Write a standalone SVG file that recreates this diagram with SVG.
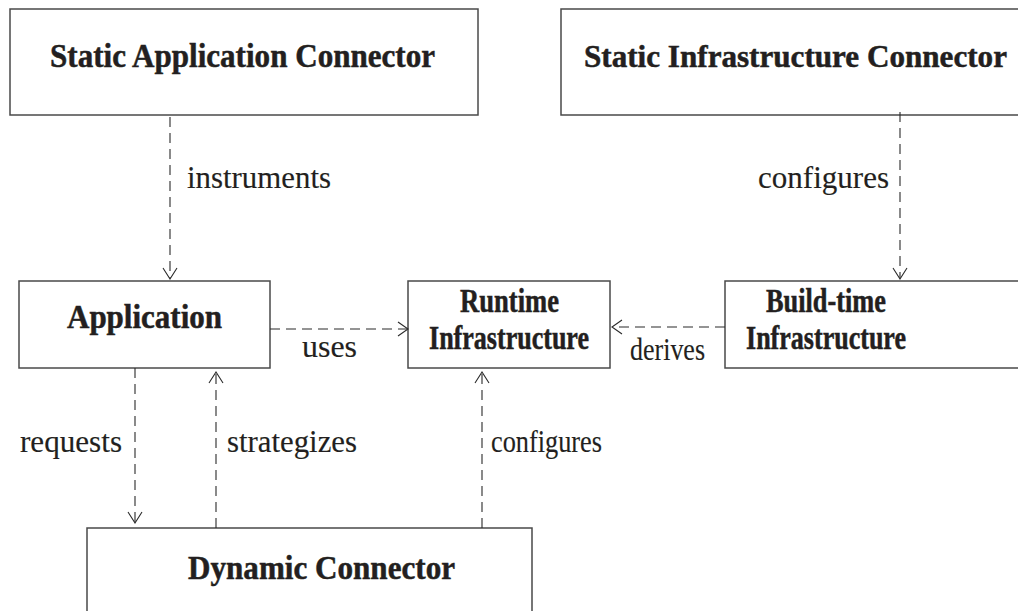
<svg xmlns="http://www.w3.org/2000/svg" width="1018" height="611" viewBox="0 0 1018 611">
  <style>
    .box { fill: #ffffff; stroke: #4a4a4a; stroke-width: 1.5; }
    .title { font-family: "Liberation Serif", "Times New Roman", serif; font-weight: bold; font-size: 33px; fill: #231f20; stroke: #231f20; stroke-width: 0.5; }
    .label { font-family: "Liberation Serif", "Times New Roman", serif; font-size: 32px; fill: #231f20; stroke: #231f20; stroke-width: 0.15; }
    .dep { fill: none; stroke: #2a2a2a; stroke-width: 1.1; stroke-dasharray: 10 6; }
    .head { fill: none; stroke: #2a2a2a; stroke-width: 1.1; }
  </style>
  <rect width="1018" height="611" fill="#ffffff"/>

  <g id="static-application-connector">
    <rect class="box" x="10" y="9" width="468" height="106"/>
    <text class="title" x="50" y="67" textLength="385" lengthAdjust="spacingAndGlyphs">Static Application Connector</text>
  </g>

  <!-- boxes that run past the page edge are drawn open on that side -->
  <g id="static-infrastructure-connector">
    <path class="box" d="M1018,9 H561 V115 H1018"/>
    <text class="title" x="584" y="67" style="font-size:31.5px" textLength="423" lengthAdjust="spacingAndGlyphs">Static Infrastructure Connector</text>
  </g>

  <g id="application">
    <rect class="box" x="19" y="281" width="251" height="87"/>
    <text class="title" x="67" y="328" textLength="155" lengthAdjust="spacingAndGlyphs">Application</text>
  </g>

  <g id="runtime-infrastructure">
    <rect class="box" x="408" y="281" width="202" height="87"/>
    <text class="title" x="460" y="312" textLength="99" lengthAdjust="spacingAndGlyphs">Runtime</text>
    <text class="title" x="429" y="349" textLength="160" lengthAdjust="spacingAndGlyphs">Infrastructure</text>
  </g>

  <g id="build-time-infrastructure">
    <path class="box" d="M1018,281 H725 V368 H1018"/>
    <text class="title" x="766" y="312" textLength="120" lengthAdjust="spacingAndGlyphs">Build-time</text>
    <text class="title" x="746" y="349" textLength="160" lengthAdjust="spacingAndGlyphs">Infrastructure</text>
  </g>

  <g id="dynamic-connector">
    <path class="box" d="M87,611 V528 H532 V611"/>
    <text class="title" x="188" y="579" textLength="267" lengthAdjust="spacingAndGlyphs">Dynamic Connector</text>
  </g>

  <g id="connectors">
    <!-- instruments -->
    <line class="dep" x1="170" y1="117" x2="170" y2="278"/>
    <polyline class="head" points="163,268 170,279 177,268"/>
    <text class="label" x="187" y="188" textLength="144" lengthAdjust="spacingAndGlyphs">instruments</text>

    <!-- configures (static infrastructure to build-time) -->
    <line class="dep" x1="900" y1="112" x2="900" y2="278"/>
    <polyline class="head" points="893,268 900,279 907,268"/>
    <text class="label" x="758" y="188" textLength="131" lengthAdjust="spacingAndGlyphs">configures</text>

    <!-- uses -->
    <line class="dep" x1="270" y1="329" x2="407" y2="329"/>
    <polyline class="head" points="398,322 408,329 398,336"/>
    <text class="label" x="302" y="357" textLength="55" lengthAdjust="spacingAndGlyphs">uses</text>

    <!-- derives -->
    <line class="dep" x1="725" y1="327" x2="613" y2="327"/>
    <polyline class="head" points="622,320 612,327 622,334"/>
    <text class="label" x="630" y="360" textLength="75" lengthAdjust="spacingAndGlyphs">derives</text>

    <!-- requests -->
    <line class="dep" x1="135" y1="368" x2="135" y2="522"/>
    <polyline class="head" points="128,512 135,523 142,512"/>
    <text class="label" x="20" y="452" textLength="102" lengthAdjust="spacingAndGlyphs">requests</text>

    <!-- strategizes -->
    <line class="dep" x1="216" y1="528" x2="216" y2="373"/>
    <polyline class="head" points="209,383 216,372 223,383"/>
    <text class="label" x="227" y="452" textLength="130" lengthAdjust="spacingAndGlyphs">strategizes</text>

    <!-- configures (dynamic connector to runtime) -->
    <line class="dep" x1="482" y1="528" x2="482" y2="373"/>
    <polyline class="head" points="475,383 482,372 489,383"/>
    <text class="label" x="491" y="452" textLength="111" lengthAdjust="spacingAndGlyphs">configures</text>
  </g>
</svg>
